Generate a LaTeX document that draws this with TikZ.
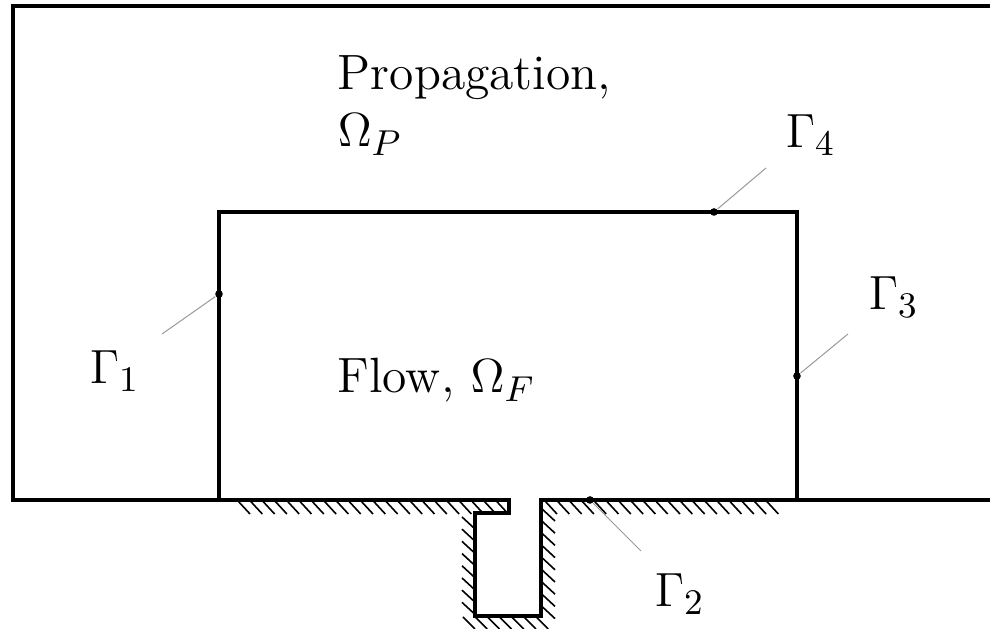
\documentclass[tikz,border=0pt]{standalone}
\usepackage{amsmath}
\usetikzlibrary{positioning}

\begin{document}
\begin{tikzpicture}[
    x=0.25pt, y=-0.25pt,
    wall/.style={line width=1pt, line join=miter},
    hatch/.style={line width=0.4pt},
    leader/.style={line width=0.25pt, draw=black!40},
    dotmark/.style={circle, fill=black, inner sep=0pt, minimum size=1.9pt},
    label/.style={anchor=base west, inner sep=0pt, font=\fontsize{12.4}{14}\selectfont}
]
\useasboundingbox (0,0) rectangle (990,629);

\draw[wall] (990,6) -- (13,6) -- (13,500.3) -- (509,500.3) -- (509,513) -- (475,513) -- (475,616) -- (541,616) -- (541,500.3) -- (990,500.3);
\draw[wall] (219,500.3) -- (219,212) -- (797,212) -- (797,500.3);

\foreach \x in {238,250.3,...,498} \draw[hatch] (\x,501) -- ++(12,13);
\foreach \x in {545,557.3,...,770} \draw[hatch] (\x,501) -- ++(12,13);
\foreach \y in {517,529.2,...,604} \draw[hatch] (462,\y) -- ++(13,12);
\foreach \y in {508,520.2,...,608} \draw[hatch] (541,\y) -- ++(14,13);
\foreach \x in {463,475.2,...,542} \draw[hatch] (\x,617) -- ++(12,12);

\node[label] (prop) at (337,90) {Propagation,};
\node[label] (omegap) at (337,147) {$\Omega_P$};
\node[label] (flow) at (337,393) {Flow, $\Omega_F$};

\node[label] (g1) at (89,384) {$\Gamma_1$};
\node[label] (g2) at (654,607) {$\Gamma_2$};
\node[label] (g3) at (868,310) {$\Gamma_3$};
\node[label] (g4) at (785,148) {$\Gamma_4$};

\node[dotmark] (d1) at (219,294) {};
\node[dotmark] (d2) at (590,500) {};
\node[dotmark] (d3) at (797,376) {};
\node[dotmark] (d4) at (714,212) {};

\coordinate (e1) at (162,334);
\coordinate (e2) at (641,551);
\coordinate (e3) at (848,334);
\coordinate (e4) at (766,168);

\draw[leader] (d1) -- (e1);
\draw[leader] (d2) -- (e2);
\draw[leader] (d3) -- (e3);
\draw[leader] (d4) -- (e4);

\end{tikzpicture}
\end{document}
